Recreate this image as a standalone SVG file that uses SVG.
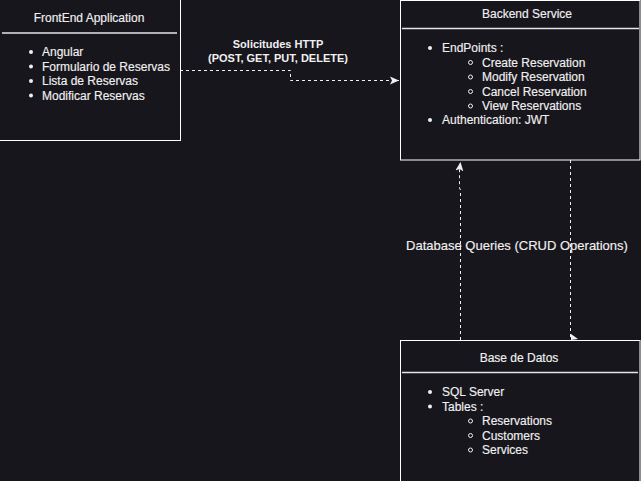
<svg xmlns="http://www.w3.org/2000/svg" width="641" height="481" viewBox="0 0 641 481">
<defs>
<style>
.box{fill:#18161d;stroke:#ffffff;stroke-width:1}
.sep{stroke:#e6e6e6;stroke-width:1.5}
.t{font-family:"Liberation Sans",Arial,sans-serif;font-size:12px;fill:#f0f0f0;stroke:#f0f0f0;stroke-width:0.15}
.title{text-anchor:middle}
.lbl{font-family:"Liberation Sans",Arial,sans-serif;font-size:11px;fill:#f0f0f0;text-anchor:middle}
.conn{fill:none;stroke:#f0f0f0;stroke-width:1;stroke-dasharray:3 3}
.dot{fill:#f0f0f0}
.ring{fill:none;stroke:#f0f0f0;stroke-width:1}
</style>
<marker id="arr" viewBox="0 0 10 10" refX="9" refY="5" markerWidth="10" markerHeight="10" markerUnits="userSpaceOnUse" orient="auto">
<path d="M0,1 L9,5 L0,9 L2,5 Z" fill="#f0f0f0"/>
</marker>
</defs>
<rect x="0" y="0" width="641" height="481" fill="#18161d"/>
<g id="connectors">
<path class="conn" d="M180,70.5 H290.5 V80.5 H399" marker-end="url(#arr)"/>
<path class="conn" d="M460.5,340 V190 L459.5,188 V170 L460.5,162" marker-end="url(#arr)"/>
<path class="conn" d="M570.5,160 V339"/>
<path d="M571,334 L578,339 L571,340 Z" fill="#f0f0f0"/>
<text class="lbl" x="278" y="48" font-weight="bold">Solicitudes HTTP</text>
<text class="lbl" x="278" y="62" font-weight="bold">(POST, GET, PUT, DELETE)</text>
<text class="t" x="517" y="250" text-anchor="middle" style="font-size:13px">Database Queries (CRUD Operations)</text>
</g>
<g id="frontend">
<rect class="box" x="-1" y="-1" width="181.5" height="141.5"/>
<line class="sep" x1="2" y1="33" x2="177" y2="33"/>
<text class="t title" x="89" y="22">FrontEnd Application</text>
<circle class="dot" cx="31" cy="52" r="2"/>
<text class="t" x="42" y="56">Angular</text>
<circle class="dot" cx="31" cy="66.5" r="2"/>
<text class="t" x="42" y="70.5">Formulario de Reservas</text>
<circle class="dot" cx="31" cy="81" r="2"/>
<text class="t" x="42" y="85">Lista de Reservas</text>
<circle class="dot" cx="31" cy="95.5" r="2"/>
<text class="t" x="42" y="99.5">Modificar Reservas</text>
</g>
<g id="backend">
<rect class="box" x="400.5" y="0.5" width="239.5" height="159.5"/>
<line class="sep" x1="402" y1="28.5" x2="639" y2="28.5"/>
<text class="t title" x="527" y="18">Backend Service</text>
<circle class="dot" cx="430" cy="48" r="2"/>
<text class="t" x="442" y="52">EndPoints :</text>
<circle class="ring" cx="470.5" cy="62.5" r="2"/>
<text class="t" x="482" y="66.5">Create Reservation</text>
<circle class="ring" cx="470.5" cy="77" r="2"/>
<text class="t" x="482" y="81">Modify Reservation</text>
<circle class="ring" cx="470.5" cy="91.5" r="2"/>
<text class="t" x="482" y="95.5">Cancel Reservation</text>
<circle class="ring" cx="470.5" cy="106" r="2"/>
<text class="t" x="482" y="110">View Reservations</text>
<circle class="dot" cx="430" cy="120" r="2"/>
<text class="t" x="442" y="124">Authentication: JWT</text>
</g>
<g id="database">
<rect class="box" x="400.5" y="340.5" width="239.5" height="145"/>
<line class="sep" x1="402" y1="372.5" x2="638" y2="372.5"/>
<text class="t title" x="519" y="362">Base de Datos</text>
<circle class="dot" cx="430" cy="392" r="2"/>
<text class="t" x="442" y="396">SQL Server</text>
<circle class="dot" cx="430" cy="406.5" r="2"/>
<text class="t" x="442" y="410.5">Tables :</text>
<circle class="ring" cx="470.5" cy="421" r="2"/>
<text class="t" x="482" y="425">Reservations</text>
<circle class="ring" cx="470.5" cy="435.5" r="2"/>
<text class="t" x="482" y="439.5">Customers</text>
<circle class="ring" cx="470.5" cy="450" r="2"/>
<text class="t" x="482" y="454">Services</text>
</g>
</svg>
